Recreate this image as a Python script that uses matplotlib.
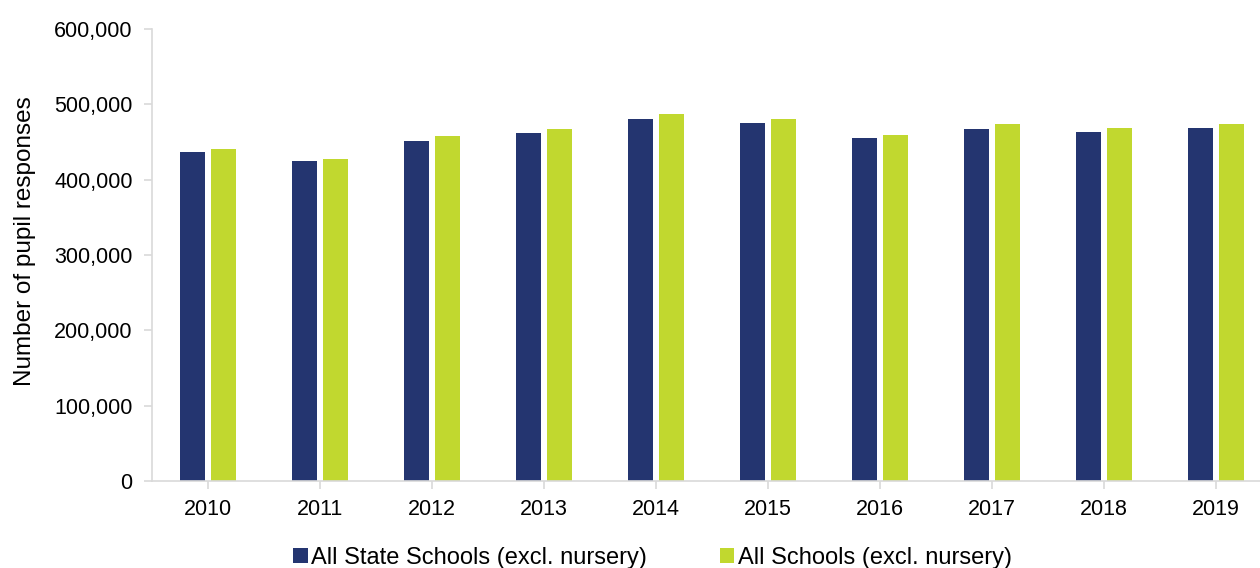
import matplotlib
import matplotlib.pyplot as plt
import numpy as np
from matplotlib.ticker import FuncFormatter
matplotlib.use('agg')

years = ['2010', '2011', '2012', '2013', '2014', '2015', '2016', '2017', '2018', '2019']
state_schools = [436700, 425200, 450900, 462400, 481000, 475200, 454900, 467300, 463300, 469000]
all_schools = [440300, 427400, 458000, 467700, 487600, 480500, 458900, 473900, 469000, 473500]

navy = '#243570'
lime = '#c1d82f'
grey = '#d9d9d9'

plt.rcParams['font.family'] = ['Liberation Sans', 'DejaVu Sans']

fig = plt.figure(figsize=(12.6, 5.68), dpi=100)
ax = fig.add_axes([152 / 1260, 87 / 568, 1120 / 1260, 452 / 568])

x = np.arange(len(years))
w = 0.22
ax.bar(x - 0.14, state_schools, w, color=navy, label='All State Schools (excl. nursery)')
ax.bar(x + 0.14, all_schools, w, color=lime, label='All Schools (excl. nursery)')

ax.set_xlim(-0.5, len(years) - 0.5)
ax.set_ylim(0, 600000)
ax.set_yticks(range(0, 600001, 100000))
ax.yaxis.set_major_formatter(FuncFormatter(lambda v, p: f'{int(v):,}'))
ax.set_xticks(x)
ax.set_xticklabels(years)

for s in ['top', 'right']:
    ax.spines[s].set_visible(False)
for s in ['left', 'bottom']:
    ax.spines[s].set_color(grey)
    ax.spines[s].set_linewidth(1.2)
ax.tick_params(axis='both', colors=grey, length=6, width=1.2, labelcolor='black', labelsize=15.5, pad=8)
ax.tick_params(axis='x', pad=7)

ax.set_ylabel('Number of pupil responses', fontsize=17.5)
ax.yaxis.set_label_coords(-0.104, 0.53)

fig.legend(loc='center', bbox_to_anchor=(0.518, 10 / 568), ncol=2, frameon=False,
           fontsize=17, handlelength=0.6, handleheight=0.6, handletextpad=0.15,
           columnspacing=3.1, borderaxespad=0)

fig.savefig('out.png', dpi=100)
plt.close()
